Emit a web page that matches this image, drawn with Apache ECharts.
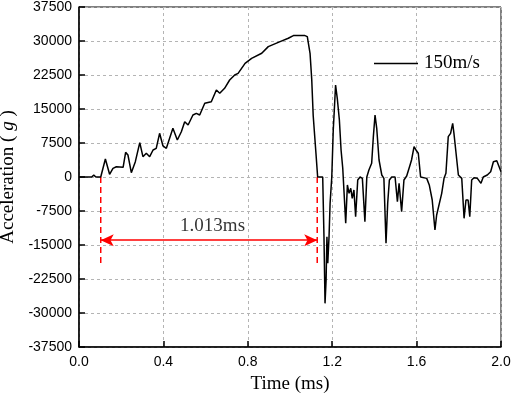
<!DOCTYPE html>
<html>
<head>
<meta charset="utf-8">
<script src="https://cdn.jsdelivr.net/npm/echarts@6/dist/echarts.min.js"></script>
<style>
  html, body { margin: 0; padding: 0; background: #fff; }
  #chart { width: 512px; height: 396px; }
</style>
</head>
<body>
<div id="chart"></div>
<script>
// time (ms) and acceleration (g)
var timeMs = [
  0.0, 0.060, 0.070, 0.080, 0.103, 0.125, 0.145, 0.161, 0.177, 0.209,
  0.221, 0.232, 0.248, 0.267, 0.288, 0.303, 0.319, 0.335, 0.351, 0.366,
  0.382, 0.398, 0.414, 0.445, 0.466, 0.485, 0.501, 0.517, 0.540, 0.556,
  0.572, 0.596, 0.627, 0.651, 0.667, 0.690, 0.714, 0.738, 0.754, 0.787,
  0.818, 0.866, 0.897, 0.953, 0.992, 1.016, 1.071, 1.082, 1.095, 1.103,
  1.110, 1.123, 1.131, 1.155, 1.161, 1.166, 1.171, 1.175, 1.179, 1.185,
  1.190, 1.198, 1.205, 1.210, 1.216, 1.224, 1.234, 1.242, 1.250, 1.256,
  1.264, 1.272, 1.280, 1.288, 1.295, 1.303, 1.311, 1.321, 1.332, 1.343,
  1.355, 1.364, 1.374, 1.387, 1.395, 1.403, 1.411, 1.422, 1.435, 1.445,
  1.455, 1.463, 1.471, 1.482, 1.498, 1.509, 1.517, 1.529, 1.540, 1.553,
  1.569, 1.576, 1.588, 1.597, 1.608, 1.619, 1.648, 1.660, 1.667, 1.674,
  1.687, 1.695, 1.703, 1.719, 1.730, 1.739, 1.750, 1.761, 1.771, 1.777,
  1.787, 1.798, 1.814, 1.825, 1.834, 1.844, 1.852, 1.861, 1.872, 1.888,
  1.897, 1.905, 1.916, 1.935, 1.951, 1.964, 1.980, 1.991, 2.0
]
var accelG = [
  0, 0, 400, 0, 0, 3970, 600, 1900, 2270, 2140,
  5450, 4850, 950, 3380, 7570, 4480, 5230, 4480, 5960, 6330,
  9640, 6840, 6330, 10740, 8160, 9990, 12200, 11470, 13680, 14050,
  13680, 16260, 16610, 19190, 18460, 19570, 21400, 22500, 22870, 25080,
  26180, 27290, 28760, 29870, 30600, 31190, 31190, 30970, 27290, 21500,
  13500, 5230, 0, 0, -13170, -27870, -22800, -13170, -19040, -13170,
  -5800, 0, 10370, 14780, 20300, 17360, 12570, 5960, 1920, 1540,
  -10210, -1760, -3600, -2500, -4700, -2870, -8750, -660, 0, -300,
  -9860, 0, 1540, 3020, 8890, 13680, 10740, 3750, 440, -300,
  -14630, -5800, -660, 0, 0, -5460, -1400, -7650, -660, 220,
  2650, 3750, 6690, 5960, 5230, 0, -300, -1760, -2130, -5070,
  -11690, -8380, -8010, -3600, -300, 820, 8890, 9640, 11850, 9640,
  5230, 440, -300, -9110, -5070, -5070, -8750, -660, -150, -300,
  0, -1400, 0, 440, 1170, 3380, 3600, 2270, 1170
]

// duration annotation
var startT = 0.103
var endT = 1.129
var arrowY = -13950
var dashLeft = [[startT, 0], [startT, -19800]]
var dashRight = [[endT, 0], [endT, -19100]]
var durText = '1.013ms'
var durTextPos = [0.633, -10800]

var xTicks = { min: 0, max: 2.0, interval: 0.4 }
var yTicks = { min: -37500, max: 37500, interval: 7500 }

var chart = echarts.init(document.getElementById('chart'), null, { renderer: 'canvas' })

var gridLine = { show: true, lineStyle: { color: '#b4b4b4', type: [3, 3], width: 1 } }
var serif = '"Liberation Serif", "Times New Roman", serif'
var sans = '"Liberation Sans", Arial, sans-serif'

var data = timeMs.map(function (t, i) { return [t, accelG[i]] })

var option = {
  animation: false,
  backgroundColor: '#fff',
  grid: {
    left: 79, right: 11, top: 7, bottom: 49,
    containLabel: false,
    outerBoundsMode: 'none',
    show: true, borderColor: '#000', borderWidth: 1
  },
  legend: {
    data: ['150m/s'],
    left: 369,
    top: 49,
    icon: 'rect',
    itemWidth: 44,
    itemHeight: 1.5,
    itemGap: 6,
    itemStyle: { color: '#000' },
    textStyle: { fontFamily: serif, fontSize: 19, color: '#000', padding: [0, 0, 0, 1] }
  },
  xAxis: {
    type: 'value',
    min: xTicks.min, max: xTicks.max, interval: xTicks.interval,
    name: 'Time (ms)',
    nameLocation: 'middle',
    nameGap: 28,
    nameTextStyle: { fontFamily: serif, fontSize: 19, color: '#000' },
    axisLine: { show: true, onZero: false, lineStyle: { color: '#000', width: 1.5 } },
    axisTick: { show: true, inside: true, length: 6, lineStyle: { color: '#000', width: 1.5 } },
    axisLabel: {
      fontFamily: sans, fontSize: 14, color: '#000', margin: 8,
      formatter: function (v) { return v.toFixed(1) }
    },
    splitLine: gridLine
  },
  yAxis: {
    type: 'value',
    min: yTicks.min, max: yTicks.max, interval: yTicks.interval,
    name: '{a|Acceleration ( }{b|g}{a| )}',
    nameLocation: 'middle',
    nameGap: 57,
    nameTextStyle: {
      rich: {
        a: { fontFamily: serif, fontSize: 19, color: '#000' },
        b: { fontFamily: serif, fontSize: 19, color: '#000', fontStyle: 'italic' }
      }
    },
    axisLine: { show: true, onZero: false, lineStyle: { color: '#000', width: 1.5 } },
    axisTick: { show: true, inside: true, length: 6, lineStyle: { color: '#000', width: 1.5 } },
    axisLabel: {
      fontFamily: sans, fontSize: 14, color: '#000', margin: 7,
      formatter: function (v) { return String(v) }
    },
    splitLine: gridLine
  },
  series: [
    {
      name: '150m/s',
      type: 'line',
      data: data,
      symbol: 'none',
      lineStyle: { color: '#000', width: 1.5 },
      itemStyle: { color: '#000' },
      z: 5
    },
    {
      name: 'dashL',
      type: 'line',
      data: dashLeft,
      symbol: 'none',
      lineStyle: { color: '#ff0000', width: 1.5, type: [6, 4] },
      z: 4
    },
    {
      name: 'dashR',
      type: 'line',
      data: dashRight,
      symbol: 'none',
      lineStyle: { color: '#ff0000', width: 1.5, type: [6, 4] },
      z: 4,
      markLine: {
        silent: true,
        symbol: ['arrow', 'arrow'],
        symbolSize: [9, 13],
        label: { show: false },
        lineStyle: { color: '#ff0000', width: 1.5, type: 'solid' },
        data: [[{ coord: [startT, arrowY] }, { coord: [endT, arrowY] }]]
      }
    },
    {
      name: 'durLabel',
      type: 'scatter',
      data: [durTextPos],
      symbolSize: 0,
      label: {
        show: true,
        position: 'inside',
        formatter: durText,
        fontFamily: serif,
        fontSize: 19,
        color: '#000'
      }
    }
  ]
}

chart.setOption(option)
</script>
</body>
</html>
